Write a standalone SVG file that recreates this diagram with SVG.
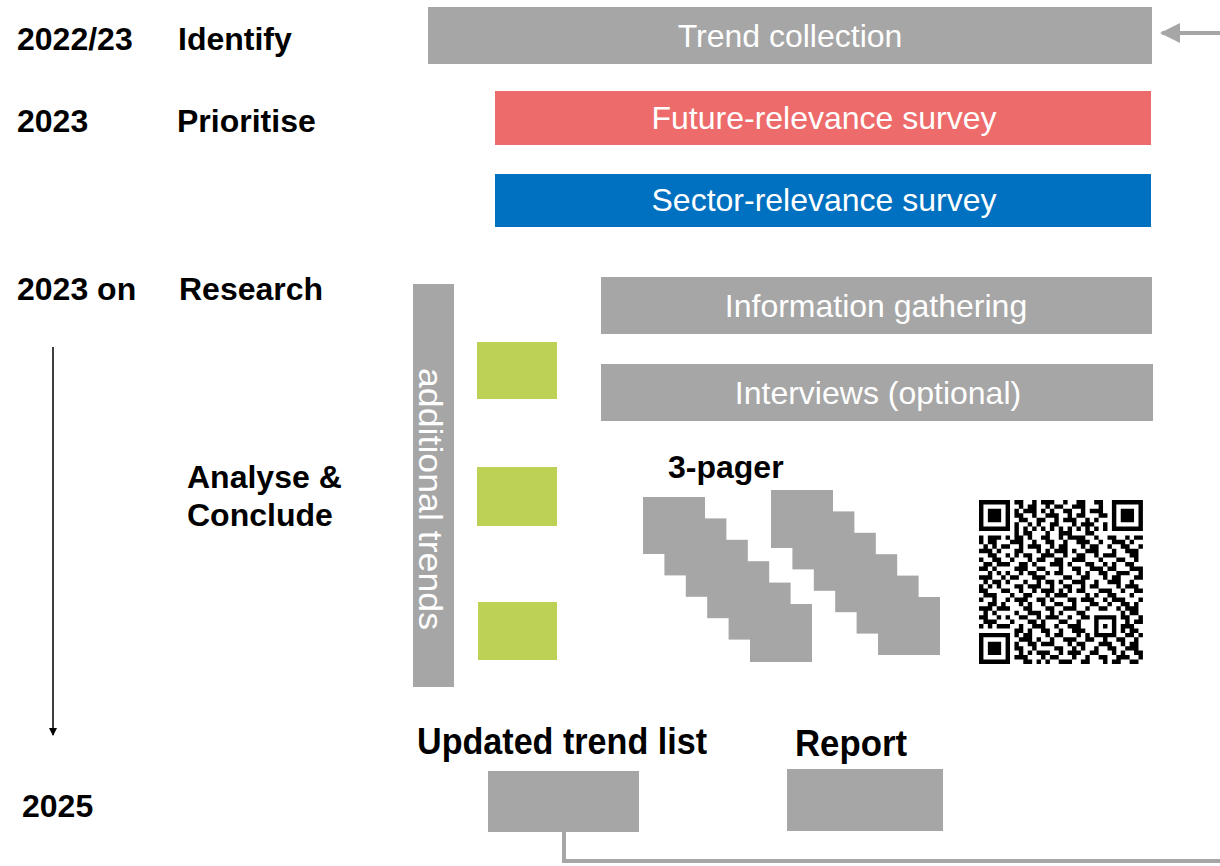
<svg xmlns="http://www.w3.org/2000/svg" width="1220" height="866" viewBox="0 0 1220 866">
<style>
.lbl{font-family:"Liberation Sans",Arial,sans-serif;font-weight:bold;font-size:32px;fill:#000}
.bt{font-family:"Liberation Sans",Arial,sans-serif;font-size:32px;fill:#fff;text-anchor:middle}
.gray{fill:#a6a6a6}
.green{fill:#bdd154}
.conn{fill:none;stroke:#a6a6a6;stroke-width:4}
</style>
<defs>
<marker id="ah" markerWidth="5" markerHeight="5" refX="4.5" refY="2.5" orient="auto" markerUnits="strokeWidth"><path d="M0 0L5 2.5L0 5z" fill="#a6a6a6"/></marker>
<marker id="ahk" markerWidth="8" markerHeight="8" refX="7" refY="4" orient="auto" markerUnits="userSpaceOnUse"><path d="M0 0L8 4L0 8z" fill="#000"/></marker>
</defs>
<g id="labels">
<text class="lbl" x="17" y="50">2022/23</text>
<text class="lbl" x="178" y="50">Identify</text>
<text class="lbl" x="17" y="132">2023</text>
<text class="lbl" x="177" y="132">Prioritise</text>
<text class="lbl" x="17" y="300">2023 on</text>
<text class="lbl" x="179" y="300">Research</text>
<text class="lbl" x="187" y="488">Analyse &amp;</text>
<text class="lbl" x="187" y="526">Conclude</text>
<text class="lbl" x="22" y="817">2025</text>
</g>
<g id="timeline">
<line x1="53" y1="347" x2="53" y2="735" stroke="#000" stroke-width="1.5" marker-end="url(#ahk)"/>
</g>
<g id="n-trend-collection">
<rect class="gray" x="428" y="7" width="724" height="57"/>
<text class="bt" x="790" y="47">Trend collection</text>
</g>
<g id="n-future-relevance">
<rect x="495" y="91" width="656" height="54" fill="#ed6b6b"/>
<text class="bt" x="824" y="129">Future-relevance survey</text>
</g>
<g id="n-sector-relevance">
<rect x="495" y="174" width="656" height="53" fill="#0070c0"/>
<text class="bt" x="824" y="211">Sector-relevance survey</text>
</g>
<g id="n-info">
<rect class="gray" x="601" y="277" width="551" height="57"/>
<text class="bt" x="876" y="317">Information gathering</text>
</g>
<g id="n-interviews">
<rect class="gray" x="601" y="364" width="552" height="57"/>
<text class="bt" x="878" y="404">Interviews (optional)</text>
</g>
<g id="n-additional">
<rect class="gray" x="413" y="284" width="41" height="403"/>
<text class="bt" transform="translate(419,499) rotate(90)" x="0" y="0" style="font-size:33px" textLength="262" lengthAdjust="spacingAndGlyphs">additional trends</text>
</g>
<g id="n-green-1"><rect class="green" x="477" y="342" width="80" height="57"/></g>
<g id="n-green-2"><rect class="green" x="477" y="467" width="80" height="59"/></g>
<g id="n-green-3"><rect class="green" x="478" y="602" width="79" height="58"/></g>
<g id="n-3pager">
<text class="lbl" x="668" y="478">3-pager</text>
<g class="gray">
<rect x="643" y="497" width="62" height="57"/>
<rect x="664.4" y="518.4" width="62" height="57"/>
<rect x="685.8" y="539.8" width="62" height="57"/>
<rect x="707.2" y="561.2" width="62" height="57"/>
<rect x="728.6" y="582.6" width="62" height="57"/>
<rect x="750" y="604" width="62" height="58"/>
<rect x="771" y="490" width="62" height="58"/>
<rect x="792.4" y="511.4" width="62" height="58"/>
<rect x="813.8" y="532.8" width="62" height="58"/>
<rect x="835.2" y="554.2" width="62" height="58"/>
<rect x="856.6" y="575.6" width="62" height="58"/>
<rect x="878" y="597" width="62" height="58"/>
</g>
</g>
<g id="n-qr" transform="translate(979,500) scale(4.43)">
<path fill="#000" fill-rule="evenodd" d="M0 0h7v7h-7zM1 1v5h5v-5zM2 2h3v3h-3zM30 0h7v7h-7zM31 1v5h5v-5zM32 2h3v3h-3zM0 30h7v7h-7zM1 31v5h5v-5zM2 32h3v3h-3z"/>
<path fill="none" stroke="#000" stroke-width="1" d="M8 0.5h2M12 0.5h1M14 0.5h3M19 0.5h1M22 0.5h2M26 0.5h2M9 1.5h1M11 1.5h2M15 1.5h1M17 1.5h2M21 1.5h3M27 1.5h1M8 2.5h1M10 2.5h3M14 2.5h1M16 2.5h1M19 2.5h2M23 2.5h1M25 2.5h3M8 3.5h2M12 3.5h1M15 3.5h3M20 3.5h1M22 3.5h2M27 3.5h2M9 4.5h2M13 4.5h2M17 4.5h1M19 4.5h3M24 4.5h1M26 4.5h1M8 5.5h1M11 5.5h1M13 5.5h1M16 5.5h2M21 5.5h1M23 5.5h3M28 5.5h1M8 6.5h1M10 6.5h1M12 6.5h1M14 6.5h1M16 6.5h1M18 6.5h1M20 6.5h1M22 6.5h1M24 6.5h1M26 6.5h1M28 6.5h1M8 7.5h1M10 7.5h2M15 7.5h1M18 7.5h3M24 7.5h2M0 8.5h1M2 8.5h3M6 8.5h1M8 8.5h2M11 8.5h1M14 8.5h2M18 8.5h1M20 8.5h4M26 8.5h1M29 8.5h2M33 8.5h1M35 8.5h2M0 9.5h1M2 9.5h2M7 9.5h3M12 9.5h1M15 9.5h2M19 9.5h1M22 9.5h3M27 9.5h1M30 9.5h3M34 9.5h1M1 10.5h1M3 10.5h1M5 10.5h2M9 10.5h1M11 10.5h3M16 10.5h1M18 10.5h2M23 10.5h1M25 10.5h2M29 10.5h1M32 10.5h2M36 10.5h1M0 11.5h3M4 11.5h1M8 11.5h2M13 11.5h1M15 11.5h1M17 11.5h3M21 11.5h1M24 11.5h3M30 11.5h1M33 11.5h3M2 12.5h2M6 12.5h1M8 12.5h1M10 12.5h2M14 12.5h3M19 12.5h1M22 12.5h2M26 12.5h1M28 12.5h3M34 12.5h2M0 13.5h1M3 13.5h2M7 13.5h1M11 13.5h1M13 13.5h2M17 13.5h2M21 13.5h3M27 13.5h1M31 13.5h2M35 13.5h1M1 14.5h2M4 14.5h3M9 14.5h2M12 14.5h1M16 14.5h3M20 14.5h1M24 14.5h2M28 14.5h1M30 14.5h1M33 14.5h2M0 15.5h2M3 15.5h1M8 15.5h3M13 15.5h2M18 15.5h1M21 15.5h2M25 15.5h3M29 15.5h2M34 15.5h3M2 16.5h1M4 16.5h1M6 16.5h1M9 16.5h1M11 16.5h2M15 16.5h1M17 16.5h2M22 16.5h1M24 16.5h1M27 16.5h2M31 16.5h3M36 16.5h1M0 17.5h3M5 17.5h1M7 17.5h2M12 17.5h3M19 17.5h2M23 17.5h2M28 17.5h1M30 17.5h2M35 17.5h2M1 18.5h1M3 18.5h2M6 18.5h1M10 18.5h1M13 18.5h1M15 18.5h2M18 18.5h1M21 18.5h3M26 18.5h1M29 18.5h3M34 18.5h1M0 19.5h1M2 19.5h1M4 19.5h1M8 19.5h2M11 19.5h3M16 19.5h1M19 19.5h2M23 19.5h1M25 19.5h2M31 19.5h1M33 19.5h3M0 20.5h2M5 20.5h2M9 20.5h1M12 20.5h1M14 20.5h3M18 20.5h1M20 20.5h1M22 20.5h2M27 20.5h3M32 20.5h1M35 20.5h2M1 21.5h3M7 21.5h1M10 21.5h2M15 21.5h1M17 21.5h3M24 21.5h1M26 21.5h1M29 21.5h2M34 21.5h1M0 22.5h1M3 22.5h1M6 22.5h1M8 22.5h3M13 22.5h2M16 22.5h1M20 22.5h2M23 22.5h3M28 22.5h1M30 22.5h3M36 22.5h1M2 23.5h2M5 23.5h1M9 23.5h1M11 23.5h1M14 23.5h1M17 23.5h2M21 23.5h1M25 23.5h2M29 23.5h1M32 23.5h2M35 23.5h1M0 24.5h3M4 24.5h3M10 24.5h2M15 24.5h2M19 24.5h3M24 24.5h1M27 24.5h2M31 24.5h1M33 24.5h3M1 25.5h1M3 25.5h1M8 25.5h1M11 25.5h3M16 25.5h1M18 25.5h1M22 25.5h2M32 25.5h1M34 25.5h2M0 26.5h2M4 26.5h1M6 26.5h1M9 26.5h2M13 26.5h1M15 26.5h3M20 26.5h1M23 26.5h2M26 26.5h5M32 26.5h2M36 26.5h1M1 27.5h3M7 27.5h1M11 27.5h2M14 27.5h1M18 27.5h2M22 27.5h1M26 27.5h1M30 27.5h1M33 27.5h1M35 27.5h2M0 28.5h1M2 28.5h1M4 28.5h3M9 28.5h1M12 28.5h3M17 28.5h1M20 28.5h3M26 28.5h1M28 28.5h1M30 28.5h1M32 28.5h3M8 29.5h2M11 29.5h1M14 29.5h2M18 29.5h1M21 29.5h3M26 29.5h1M30 29.5h1M32 29.5h1M34 29.5h2M8 30.5h1M10 30.5h2M15 30.5h1M17 30.5h2M22 30.5h1M24 30.5h1M26 30.5h5M33 30.5h2M36 30.5h1M9 31.5h3M13 31.5h1M16 31.5h1M19 31.5h3M24 31.5h2M28 31.5h1M31 31.5h2M35 31.5h1M8 32.5h1M11 32.5h2M14 32.5h3M20 32.5h1M22 32.5h2M27 32.5h3M32 32.5h1M34 32.5h2M8 33.5h2M12 33.5h1M17 33.5h2M21 33.5h1M23 33.5h1M26 33.5h1M29 33.5h2M33 33.5h3M9 34.5h1M11 34.5h1M13 34.5h3M18 34.5h1M20 34.5h3M25 34.5h2M30 34.5h1M32 34.5h1M35 34.5h2M8 35.5h3M14 35.5h1M16 35.5h2M21 35.5h1M24 35.5h1M27 35.5h2M31 35.5h3M36 35.5h1M10 36.5h2M13 36.5h1M15 36.5h1M18 36.5h3M23 36.5h2M28 36.5h1M30 36.5h2M34 36.5h2"/>
</g>
<g id="n-updated-trend-list">
<text class="lbl" x="417" y="754" style="font-size:36px" textLength="290" lengthAdjust="spacingAndGlyphs">Updated trend list</text>
<rect class="gray" x="488" y="771" width="151" height="61"/>
</g>
<g id="n-report">
<text class="lbl" x="795" y="756" style="font-size:37px" textLength="112" lengthAdjust="spacingAndGlyphs">Report</text>
<rect class="gray" x="787" y="769" width="156" height="62"/>
</g>
<g id="connectors">
<path class="conn" d="M564 832V861H1240V33H1162" marker-end="url(#ah)"/>
</g>
</svg>
